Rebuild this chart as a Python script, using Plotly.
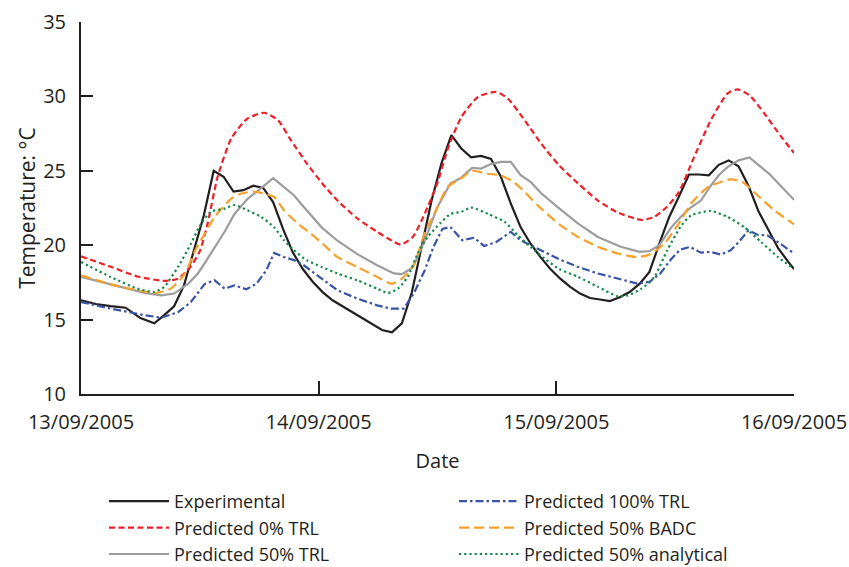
import pandas as pd
import plotly.graph_objects as go

# ---------------- data (hours after 13/09/2005 00:00, temperature °C) ----------------
exp_hours = [0, 1.5, 3, 4.5, 6, 7.4, 8.4, 9.4, 10.4, 11.4, 12.4, 13.4, 14.4, 15.4, 16.4, 17.4, 18.4, 19.4,
             20.4, 21.4, 22.4, 23.4, 24.4, 25.4, 26.4, 27.4, 28.4, 29.4, 30.4, 31.4, 32.4, 33.4, 34.4, 35.4,
             36.4, 37.4, 38.4, 39.4, 40.4, 41.4, 42.4, 43.4, 44.4, 45.4, 46.4, 47.4, 48.4, 49.4, 50.4, 51.4,
             52.4, 53.4, 54.4, 55.4, 56.4, 57.4, 58.4, 59.4, 60.4, 61.4, 62.4, 63.4, 64.4, 65.4, 66.4, 67.4,
             68.4, 69.4, 70.4, 71.4, 72]
exp_temp = [16.3, 16.05, 15.9, 15.8, 15.1, 14.75, 15.3, 15.9, 17.3, 19.6, 22.0, 25.0, 24.6, 23.6, 23.7, 24.0,
            23.85, 22.9, 21.1, 19.5, 18.4, 17.55, 16.85, 16.3, 15.9, 15.45, 15.05, 14.7, 14.3, 14.15, 14.75,
            16.8, 20.0, 23.0, 25.5, 27.4, 26.5, 25.9, 26.0, 25.8, 24.6, 22.8, 21.2, 20.1, 19.2, 18.4, 17.75,
            17.2, 16.75, 16.45, 16.35, 16.25, 16.5, 16.85, 17.4, 18.2, 20.1, 21.9, 23.3, 24.75, 24.75, 24.7,
            25.4, 25.7, 25.3, 24.0, 22.3, 21.0, 19.8, 18.9, 18.4]

red_hours = [0, 3, 5.7, 8.5, 9.8, 11, 12, 12.8, 13.8, 15.2, 16.8, 18.5, 19.9, 21.2, 22.8, 24.3, 25.9, 27.9,
             29.9, 31.4, 32.3, 33.5, 34.7, 36.0, 37.0, 38.4, 40.1, 41.9, 43.1, 44.8, 46.5, 48.3, 50.2, 52.2,
             54.2, 56.6, 57.9, 59.2, 60.4, 61.9, 63.6, 65.3, 66.3, 67.5, 69.0, 70.7, 72]
red_temp = [19.25, 18.55, 17.9, 17.6, 17.75, 18.5, 19.6, 21.5, 24.6, 27.2, 28.5, 28.9, 28.4, 27.05, 25.5,
            24.2, 23.0, 21.8, 20.9, 20.3, 20.04, 20.55, 22.1, 24.2, 26.4, 28.6, 29.97, 30.3, 29.86, 28.4,
            26.8, 25.35, 24.15, 23.0, 22.2, 21.7, 21.9, 22.6, 23.6, 25.9, 28.4, 30.2, 30.47, 30.08, 28.85,
            27.3, 26.2]

gray_hours = [0, 3, 6.4, 8.1, 9.4, 10.8, 11.8, 12.4, 13.5, 14.5, 15.5, 16.8, 18.5, 19.4, 20.5, 21.5, 22.5,
              23.4, 24.3, 25.9, 27.9, 29.9, 31.6, 32.4, 33.5, 34.7, 36.0, 37.3, 38.3, 39.5, 40.4, 41.4, 42.4,
              43.4, 44.4, 45.4, 46.5, 48.1, 50.2, 52.2, 54.5, 56.4, 57.4, 58.4, 59.6, 60.7, 61.5, 62.6, 63.6,
              64.4, 65.3, 66.4, 67.5, 68.4, 69.5, 70.5, 72]
gray_temp = [17.87, 17.37, 16.8, 16.63, 16.75, 17.4, 18.1, 18.7, 19.9, 20.9, 22.1, 23.1, 24.0, 24.5, 23.9,
             23.36, 22.57, 21.9, 21.2, 20.3, 19.4, 18.65, 18.1, 18.05, 18.5, 20.3, 22.57, 24.15, 24.5, 25.2,
             25.15, 25.45, 25.6, 25.6, 24.7, 24.25, 23.47, 22.57, 21.45, 20.55, 19.9, 19.55, 19.6, 20.0, 21.2,
             22.0, 22.5, 23.0, 24.0, 24.7, 25.26, 25.7, 25.9, 25.4, 24.8, 24.1, 23.05]

blue_hours = [0, 3, 6.4, 8.1, 9.8, 11.1, 12.5, 13.5, 14.5, 15.5, 16.7, 17.7, 18.7, 19.5, 20.5, 21.5, 22.5,
              24.3, 25.9, 27.9, 29.9, 31.3, 32.6, 33.6, 34.7, 35.6, 36.5, 37.3, 38.5, 39.7, 40.7, 41.9, 43.4,
              44.4, 45.4, 46.5, 48.3, 50.2, 52.2, 54.2, 56.2, 57.4, 58.5, 59.5, 60.5, 61.5, 62.6, 63.6, 64.6,
              65.6, 66.4, 67.4, 68.3, 69.3, 70.4, 72]
blue_temp = [16.18, 15.74, 15.3, 15.13, 15.5, 16.18, 17.4, 17.64, 17.08, 17.3, 17.04, 17.4, 18.3, 19.48, 19.2,
             19.0, 18.65, 17.76, 16.97, 16.41, 15.96, 15.74, 15.74, 16.75, 18.3, 19.9, 21.1, 21.23, 20.33,
             20.5, 19.95, 20.2, 20.9, 20.33, 20.0, 19.66, 19.05, 18.54, 18.1, 17.76, 17.42, 17.53, 18.1,
             18.99, 19.7, 19.88, 19.5, 19.55, 19.37, 19.66, 20.2, 21.0, 20.7, 20.67, 20.2, 19.45]

orange_hours = [0, 3, 5.7, 7.7, 9.1, 10.5, 11.5, 12.3, 13.5, 15.2, 16.2, 17.4, 18.5, 19.5, 20.5, 21.9, 23.2,
                24.4, 25.9, 27.9, 29.9, 31.4, 32.4, 33.5, 34.7, 36.0, 37.0, 38.4, 39.5, 41.0, 42.3, 43.7,
                44.8, 46.1, 48.3, 50.2, 52.2, 54.2, 56.2, 57.5, 58.9, 59.9, 60.7, 61.6, 63.3, 64.6, 65.6,
                66.8, 68.3, 70.0, 72]
orange_temp = [17.97, 17.37, 16.97, 16.8, 17.1, 18.1, 19.6, 20.55, 21.9, 23.14, 23.47, 23.6, 23.47, 23.24,
               22.35, 21.45, 20.78, 20.1, 19.2, 18.54, 17.87, 17.4, 17.76, 18.54, 20.78, 22.57, 23.9, 24.5,
               25.0, 24.8, 24.7, 24.25, 23.58, 22.68, 21.4, 20.55, 19.9, 19.44, 19.2, 19.4, 20.1, 21.0, 21.8,
               22.8, 23.9, 24.25, 24.43, 24.25, 23.36, 22.35, 21.4]

green_hours = [0, 3, 5.7, 7.4, 8.4, 9.8, 11.1, 12.0, 13.1, 14.5, 15.5, 16.8, 18.2, 19.5, 20.5, 21.5, 22.8,
               24.3, 25.9, 27.9, 29.9, 31.0, 32.0, 33.0, 34.0, 35.0, 36.3, 37.3, 38.4, 39.4, 41.1, 42.8, 44.1,
               45.4, 46.8, 48.3, 50.2, 52.2, 54.2, 55.2, 56.6, 57.9, 59.2, 60.5, 61.6, 63.6, 65.3, 67.0, 68.7,
               70.4, 72]
green_temp = [18.87, 17.87, 17.08, 16.86, 17.2, 18.54, 20.1, 21.3, 22.24, 22.46, 22.7, 22.35, 21.9, 21.2,
              20.33, 19.66, 18.99, 18.54, 18.1, 17.64, 17.08, 16.79, 17.08, 17.87, 19.44, 20.55, 21.5, 22.1,
              22.24, 22.53, 22.1, 21.56, 20.67, 19.88, 19.1, 18.4, 17.87, 17.2, 16.57, 16.63, 17.08, 17.87,
              19.66, 21.2, 22.0, 22.3, 21.9, 21.2, 20.2, 19.2, 18.4]

day_ticks = ["2005-09-13", "2005-09-14", "2005-09-15", "2005-09-16"]
y_ticks = [10, 15, 20, 25, 30, 35]

start = pd.Timestamp("2005-09-13 00:00")


def to_time(hours):
    return [(start + pd.Timedelta(minutes=round(h * 60))).strftime("%Y-%m-%d %H:%M") for h in hours]


TXT = "#231f20"
FONT = dict(family="Open Sans", size=20, color=TXT)
LEG_FONT = dict(family="Open Sans", size=18, color=TXT)
TITLE_FONT = dict(family="Open Sans", size=21, color=TXT)

series = [
    ("Experimental", exp_hours, exp_temp, "#231f20", "solid", "linear", "legend"),
    ("Predicted 0% TRL", red_hours, red_temp, "#ee2027", "6px,3.5px", "spline", "legend"),
    ("Predicted 50% TRL", gray_hours, gray_temp, "#9d9d9d", "solid", "linear", "legend"),
    ("Predicted 100% TRL", blue_hours, blue_temp, "#3a54a4", "8px,3px,2.5px,3px", "linear", "legend2"),
    ("Predicted 50% BADC", orange_hours, orange_temp, "#f7a12a", "10px,5px", "spline", "legend2"),
    ("Predicted 50% analytical", green_hours, green_temp, "#12894a", "2.2px,3px", "spline", "legend2"),
]

fig = go.Figure()
for name, hrs, temps, color, dash, shape, leg in series:
    assert len(hrs) == len(temps), name
    line = dict(color=color, width=2.2, dash=dash, shape=shape)
    if shape == "spline":
        line["smoothing"] = 0.6
    fig.add_trace(go.Scatter(x=to_time(hrs), y=temps, mode="lines", name=name, legend=leg, line=line))

PLOT_L, PLOT_R, PLOT_T, PLOT_B = 81, 794, 22, 394
pw, ph = PLOT_R - PLOT_L, PLOT_B - PLOT_T

legend_common = dict(
    orientation="v", xref="paper", yref="paper", xanchor="left", yanchor="top",
    font=LEG_FONT, bgcolor="rgba(0,0,0,0)", borderwidth=0, tracegroupgap=0, itemwidth=60,
)

fig.update_layout(
    width=849, height=567,
    margin=dict(l=PLOT_L, r=849 - PLOT_R, t=PLOT_T, b=567 - PLOT_B, autoexpand=False),
    paper_bgcolor="white", plot_bgcolor="white",
    font=FONT,
    showlegend=True,
    legend=dict(x=(104 - PLOT_L) / pw, y=(PLOT_B - 483) / ph, **legend_common),
    legend2=dict(x=(454 - PLOT_L) / pw, y=(PLOT_B - 483) / ph, **legend_common),
    xaxis=dict(
        type="date", range=[day_ticks[0], day_ticks[-1]],
        tickvals=day_ticks, tickformat="%d/%m/%Y", tickangle=0,
        ticks="inside", ticklen=13, tickwidth=1.5, tickcolor=TXT,
        showline=True, linewidth=2, linecolor=TXT,
        showgrid=False, zeroline=False, ticklabelstandoff=9,
        tickfont=FONT, automargin=False,
        title=dict(text="Date", font=FONT, standoff=20),
    ),
    yaxis=dict(
        range=[10, 35], tickvals=y_ticks,
        ticks="inside", ticklen=12, tickwidth=1.5, tickcolor=TXT,
        showline=True, linewidth=2, linecolor=TXT,
        showgrid=False, zeroline=False, ticklabelstandoff=9,
        tickfont=FONT, automargin=False,
        title=dict(text="Temperature: °C", font=TITLE_FONT, standoff=2),
    ),
)

fig.write_html("out.html")
